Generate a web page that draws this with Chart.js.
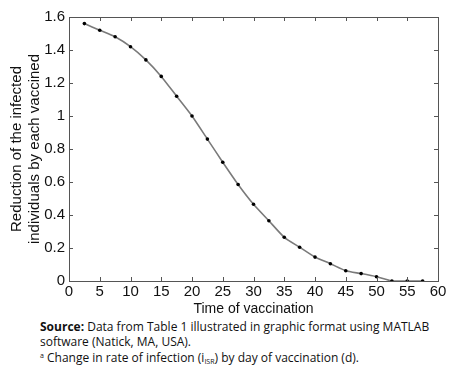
<!DOCTYPE html>
<html>
<head>
<meta charset="utf-8">
<script src="https://cdn.jsdelivr.net/npm/chart.js@4"></script>
<style>
  body { margin: 0; background: #fff; width: 457px; height: 372px; overflow: hidden; }
  #wrap { position: relative; width: 457px; height: 318px; }
  .caption { position: absolute; left: 40px; font-family: "Open Sans", sans-serif; font-size: 12px; color: #111; line-height: 15px; }
  sup { font-size: 7px; vertical-align: 4px; }
  sub { font-size: 7px; vertical-align: -2px; }
</style>
</head>
<body>
<div id="wrap"><canvas id="chart" width="457" height="318"></canvas></div>
<div class="caption" style="top:319px;"><b>Source:</b> Data from Table 1 illustrated in graphic format using MATLAB<br>software (Natick, MA, USA).</div>
<div class="caption" style="top:348px;"><sup>a</sup> Change in rate of infection (i<sub>ISR</sub>) by day of vaccination (d).</div>
<script>
// data
var days = [2.5, 5, 7.5, 10, 12.5, 15, 17.5, 20, 22.5, 25, 27.5, 30, 32.5, 35, 37.5, 40, 42.5, 45, 47.5, 50, 52.5, 55, 57.5];
var reduction = [1.56, 1.52, 1.48, 1.42, 1.34, 1.24, 1.12, 1.00, 0.86, 0.72, 0.585, 0.465, 0.365, 0.265, 0.205, 0.145, 0.105, 0.062, 0.045, 0.026, 0, 0, 0];
var xTicks = [0, 5, 10, 15, 20, 25, 30, 35, 40, 45, 50, 55, 60];
var yTicks = [0, 0.2, 0.4, 0.6, 0.8, 1, 1.2, 1.4, 1.6];

var axisFont = { family: 'Liberation Sans', size: 15 };

// frame with inward ticks on all four sides, like MATLAB
var framePlugin = {
    id: 'frame',
    afterDraw: function(chart) {
        var ctx = chart.ctx;
        var a = chart.chartArea;
        var xs = chart.scales.x, ys = chart.scales.y;
        ctx.save();
        ctx.strokeStyle = '#555';
        ctx.lineWidth = 1;
        ctx.strokeRect(a.left + 0.5, a.top + 0.5, a.right - a.left, a.bottom - a.top);
        ctx.beginPath();
        xs.ticks.forEach(function(t) {
            var px = Math.round(xs.getPixelForValue(t.value)) + 0.5;
            ctx.moveTo(px, a.bottom); ctx.lineTo(px, a.bottom - 4);
            ctx.moveTo(px, a.top); ctx.lineTo(px, a.top + 4);
        });
        ys.ticks.forEach(function(t) {
            var py = Math.round(ys.getPixelForValue(t.value)) + 0.5;
            ctx.moveTo(a.left, py); ctx.lineTo(a.left + 4, py);
            ctx.moveTo(a.right, py); ctx.lineTo(a.right - 4, py);
        });
        ctx.stroke();
        ctx.restore();
    }
};

var data = {
    datasets: [{
        data: days.map(function(d, i) { return { x: d, y: reduction[i] }; }),
        borderColor: '#7a7a7a',
        borderWidth: 1.6,
        pointRadius: 1.8,
        pointBackgroundColor: '#000',
        pointBorderWidth: 0,
        tension: 0.2
    }]
};

var options = {
    responsive: false,
    animation: false,
    layout: { padding: { left: 0, right: 19, top: 17, bottom: 0 } },
    plugins: { legend: { display: false }, tooltip: { enabled: false } },
    scales: {
        x: {
            type: 'linear', min: 0, max: 60,
            afterBuildTicks: function(s) { s.ticks = xTicks.map(function(v) { return { value: v }; }); },
            grid: { display: false, drawTicks: false },
            border: { display: false },
            ticks: { color: '#111', font: axisFont, padding: 2, maxRotation: 0, callback: function(v) { return String(v); } },
            title: { display: true, text: 'Time of vaccination', color: '#111', font: { family: 'Liberation Sans', size: 14 }, padding: { top: 2, bottom: 0 } },
            afterFit: function(s) { s.height = 37; }
        },
        y: {
            type: 'linear', min: 0, max: 1.6,
            afterBuildTicks: function(s) { s.ticks = yTicks.map(function(v) { return { value: v }; }); },
            grid: { display: false, drawTicks: false },
            border: { display: false },
            ticks: { color: '#111', font: axisFont, padding: 4, callback: function(v) { return String(v); } },
            title: { display: true, text: ['Reduction of the infected', 'individuals by each vaccined'], color: '#111', font: { family: 'Liberation Sans', size: 15 }, padding: { top: 8, bottom: 0 } },
            afterFit: function(s) { s.width = 69; }
        }
    }
};

var canvas = document.getElementById('chart').getContext('2d');
var lineChart = new Chart(canvas, { type: 'line', data: data, options: options, plugins: [framePlugin] });
</script>
</body>
</html>
